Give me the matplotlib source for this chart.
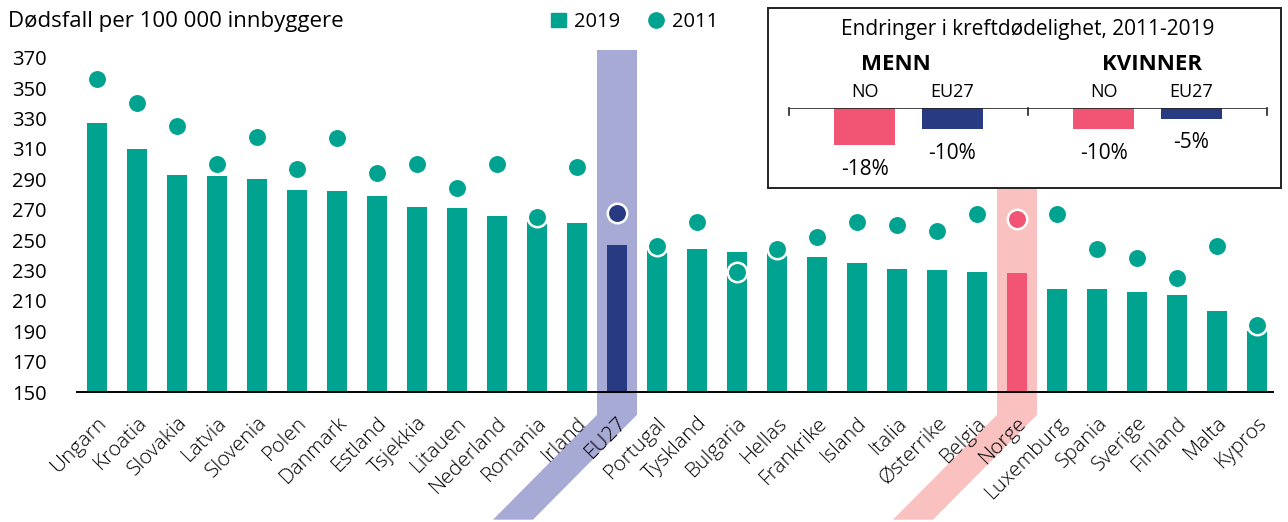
import numpy as np
import matplotlib.pyplot as plt
from matplotlib.patches import Polygon, Rectangle, Patch
from matplotlib.lines import Line2D

plt.rcParams['font.family'] = ['Open Sans', 'DejaVu Sans']

# data
countries = ['Ungarn', 'Kroatia', 'Slovakia', 'Latvia', 'Slovenia', 'Polen', 'Danmark',
             'Estland', 'Tsjekkia', 'Litauen', 'Nederland', 'Romania', 'Irland', 'EU27',
             'Portugal', 'Tyskland', 'Bulgaria', 'Hellas', 'Frankrike', 'Island', 'Italia',
             'Østerrike', 'Belgia', 'Norge', 'Luxemburg', 'Spania', 'Sverige', 'Finland',
             'Malta', 'Kypros']
v2019 = [327, 310, 293, 292, 290, 283, 282, 279, 272, 271, 266, 262, 261, 247, 244,
         244, 242, 242, 239, 235, 231, 230, 229, 228, 218, 218, 216, 214, 203, 190]
v2011 = [356, 340, 325, 300, 318, 297, 317, 294, 300, 284, 300, 265, 298, 268, 246,
         262, 229, 244, 252, 262, 260, 256, 267, 264, 267, 244, 238, 225, 246, 194]

groups = ['MENN', 'KVINNER']
change_no = [-18, -10]
change_eu = [-10, -5]

TEAL = '#00a390'
NAVY = '#283a82'
PINK = '#f15573'
BAND_EU = '#a8aad6'
BAND_NO = '#f9c1c0'

x = np.arange(len(countries))
colors = [NAVY if c == 'EU27' else PINK if c == 'Norge' else TEAL for c in countries]

fig = plt.figure(figsize=(12.88, 5.22), dpi=100)
ax = fig.add_axes([77 / 1288, 130 / 522, 1196 / 1288, 342 / 522])
ymin, ymax = 150, 375
ax.set_xlim(-0.5, 29.4)
ax.set_ylim(ymin, ymax)


def band(i, top, color):
    # strip behind bar i that bends down-left under the axis
    shift = 2.6
    yb, ye = 135, 66
    pts = [(i - 0.5, top), (i + 0.5, top), (i + 0.5, yb), (i + 0.5 - shift, ye),
           (i - 0.5 - shift, ye), (i - 0.5, yb)]
    ax.add_patch(Polygon(pts, closed=True, color=color, lw=0, zorder=0.5, clip_on=False))


band(countries.index('EU27'), ymax, BAND_EU)
band(countries.index('Norge'), 285, BAND_NO)

ax.bar(x, np.array(v2019) - ymin, bottom=ymin, width=0.52, color=colors, zorder=2)
for xi, v, c in zip(x, v2011, colors):
    ax.plot(xi, v, 'o', ms=14, color=c, mec='white', mew=1.8, zorder=3, clip_on=False)

for s in ['top', 'right', 'left']:
    ax.spines[s].set_visible(False)
ax.spines['bottom'].set_linewidth(1.4)
ax.spines['bottom'].set_zorder(4)

ax.set_yticks(np.arange(150, 371, 20))
ax.tick_params(axis='y', length=0, pad=22, labelsize=14.5)
ax.set_xticks(x)
ax.set_xticklabels(countries, rotation=45, ha='right', va='top', rotation_mode='anchor',
                   fontsize=15, fontweight='light')
ax.tick_params(axis='x', length=0, pad=15)

fig.text(8 / 1288, 1 - 22 / 522, 'Dødsfall per 100 000 innbyggere', fontsize=16,
         va='center', ha='left')

handles = [Patch(color=TEAL), Line2D([], [], marker='o', ls='', color=TEAL, ms=11)]
fig.legend(handles, ['2019', '2011'], loc='center left',
           bbox_to_anchor=(551 / 1288, 1 - 22 / 522), ncol=2, frameon=False,
           fontsize=14.5, handlelength=0.75, handleheight=0.75, handletextpad=0.4,
           columnspacing=1.4, borderpad=0, borderaxespad=0)

# inset box
fig.patches.append(Rectangle((767.5 / 1288, 1 - 188 / 522), 513.5 / 1288, 179.5 / 522,
                             transform=fig.transFigure, fc='white', ec='#222222',
                             lw=1.4, zorder=5))
fig.text(1028 / 1288, 1 - 29 / 522, 'Endringer i kreftdødelighet, 2011-2019',
         fontsize=15, ha='center', va='center', zorder=6)
fig.text(896 / 1288, 1 - 65 / 522, groups[0], fontsize=16, fontweight='bold',
         ha='center', va='center', zorder=6)
fig.text(1152 / 1288, 1 - 65 / 522, groups[1], fontsize=16, fontweight='bold',
         ha='center', va='center', zorder=6)

ax2 = fig.add_axes([789 / 1288, 1 - 159.6 / 522, 478 / 1288, 51.3 / 522], zorder=6)
ax2.patch.set_alpha(0)
g = 2.74
ax2.set_xlim(0, 2 * g)
ax2.set_ylim(-25, 0)
centers = [g / 2, 3 * g / 2]
for k, ctr in enumerate(centers):
    for dx, val, col, lab in [(-0.5, change_no[k], PINK, 'NO'), (0.5, change_eu[k], NAVY, 'EU27')]:
        ax2.bar(ctr + dx, val, width=0.7, color=col)
        ax2.annotate(f'{val}%', (ctr + dx, val), xytext=(0, -17.5), textcoords='offset points',
                     ha='center', va='center', fontsize=15)
        ax2.annotate(lab, (ctr + dx, 0), xytext=(0, 11.5), textcoords='offset points',
                     ha='center', va='center', fontsize=13)
ax2.axhline(0, color='#222222', lw=1.2)
for tx in [0, g, 2 * g]:
    ax2.plot([tx, tx], [0, -3.5], color='#222222', lw=1.2, clip_on=False)
ax2.axis('off')

fig.savefig('out.png', dpi=100)
